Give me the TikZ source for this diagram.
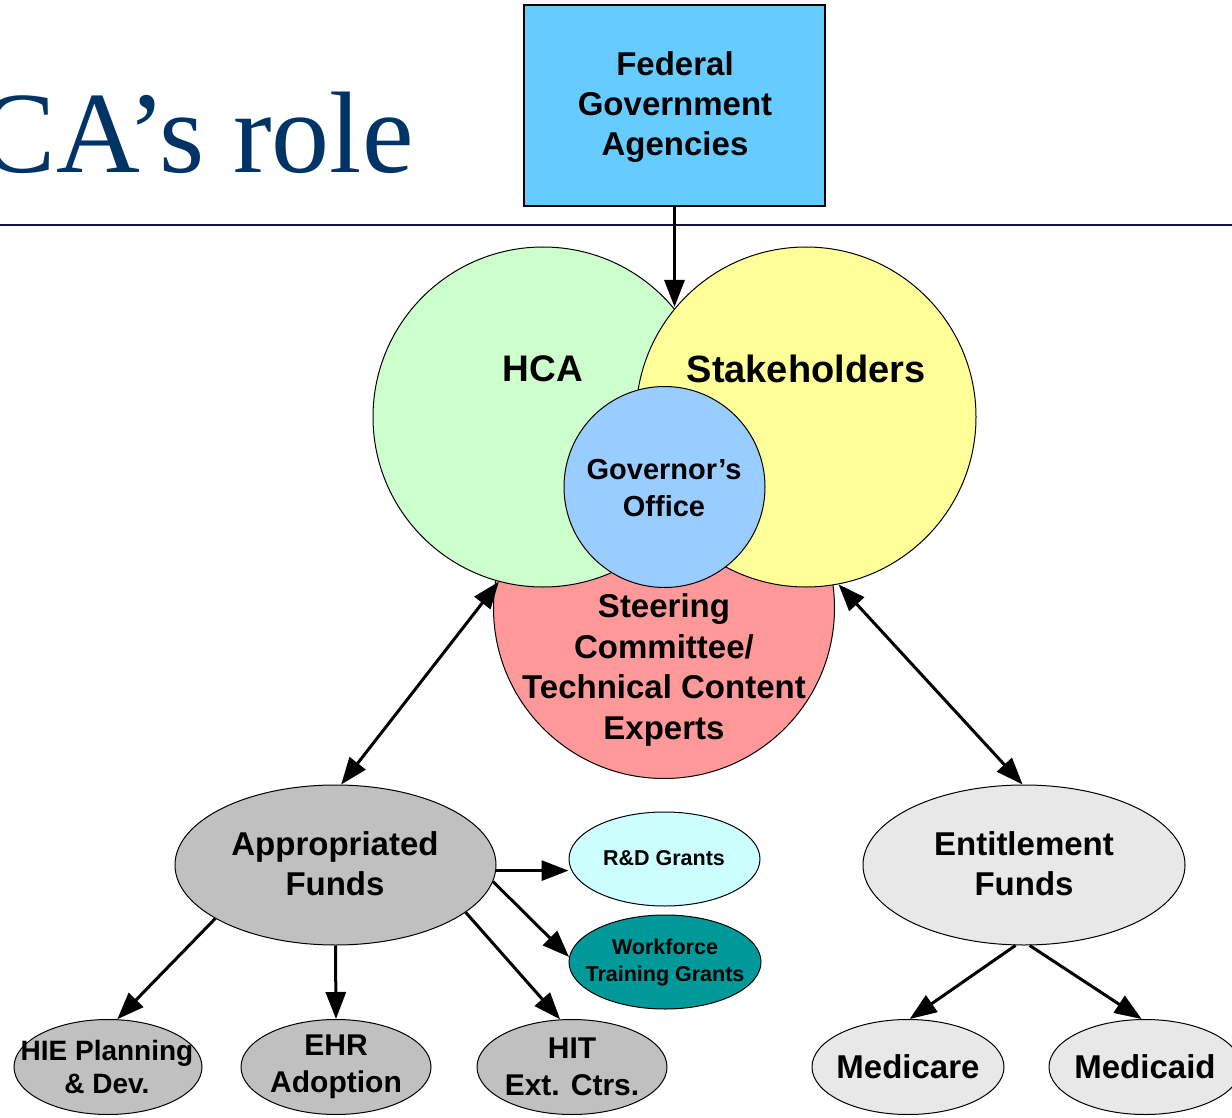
\documentclass[tikz,border=0pt]{standalone}
\usepackage{fontspec}
\setmainfont{Liberation Sans}
\newfontfamily\titlefont{Liberation Serif}
\usetikzlibrary{shapes.geometric,arrows.meta}
\definecolor{fedblue}{HTML}{66CCFF}
\definecolor{hcagreen}{HTML}{CCFFCC}
\definecolor{stakeyellow}{HTML}{FFFF99}
\definecolor{govblue}{HTML}{99CCFF}
\definecolor{steerred}{HTML}{FF9999}
\definecolor{midgray}{HTML}{C0C0C0}
\definecolor{lightgray2}{HTML}{E8E8E8}
\definecolor{rdcyan}{HTML}{CCFFFF}
\definecolor{teal2}{HTML}{009999}
\definecolor{titleblue}{HTML}{003366}
\definecolor{rulenavy}{HTML}{14144B}
\begin{document}
\begin{tikzpicture}[x=1pt,y=-1pt,
  outl/.style={draw=black,line width=1pt},
  circ/.style={outl,circle,inner sep=0pt,minimum size=#1},
  ovl/.style={outl,ellipse,inner sep=0pt},
  txt/.style 2 args={inner sep=0pt,align=center,font=\fontsize{#1}{#2}\selectfont\bfseries},
  arr/.style={line width=3pt,-{Triangle[length=27pt,width=20pt]}},
  darr/.style={line width=3pt,{Triangle[length=27pt,width=20pt]}-{Triangle[length=27pt,width=20pt]}}
]
\clip (0,0) rectangle (1232,1118);
\fill[white] (0,0) rectangle (1232,1118);
% title
\node[anchor=base east,inner sep=0pt,text=titleblue,font=\titlefont\fontsize{116}{120}\selectfont] (title) at (414,173) {CA’s role};
\draw[rulenavy,line width=2.5pt] (0,225) coordinate (rl) -- (1232,225) coordinate (rr);
% federal box
\node[outl,line width=1.5pt,fill=fedblue,minimum width=301pt,minimum height=201pt,inner sep=0pt] (fed) at (674.5,105.5) {};
\node[txt={33}{40}] (fedT) at (675,107) {Federal\\Government\\Agencies};
% venn
\node[circ=341pt,fill=steerred] (steer) at (664,608) {};
\node[circ=340pt,fill=hcagreen] (hca) at (543,417) {};
\node[circ=340pt,fill=stakeyellow] (stake) at (806,417) {};
\node[circ=201pt,fill=govblue] (gov) at (664.5,487) {};
\node[txt={37}{40}] (hcaT) at (543,369) {HCA};
\node[txt={38}{40}] (stakeT) at (806,369) {Stakeholders};
\node[txt={29}{37}] (govT) at (664,488) {Governor’s\\Office};
\node[txt={33}{40.5}] (steerT) at (664,670) {Steering\\Committee/\\Technical Content\\Experts};
\coordinate (top) at (674.5,307);
% fund ellipses
\node[ovl,fill=midgray,minimum width=321pt,minimum height=160pt] (appr) at (335.5,865) {};
\node[txt={33}{40}] (apprT) at (335,864) {Appropriated\\Funds};
\node[ovl,fill=lightgray2,minimum width=322pt,minimum height=160pt] (ent) at (1024,865) {};
\node[txt={33}{40}] (entT) at (1024,864) {Entitlement\\Funds};
\node[ovl,fill=rdcyan,minimum width=191pt,minimum height=94pt] (rd) at (664.5,859) {};
\node[txt={21.5}{27}] (rdT) at (664,858) {R\&D Grants};
\node[ovl,fill=teal2,minimum width=192pt,minimum height=94pt] (wf) at (665,962) {};
\node[txt={21.5}{27}] (wfT) at (665,962) {Workforce\\Training Grants};
% bottom ellipses
\node[ovl,fill=midgray,minimum width=188pt,minimum height=95pt] (hie) at (108,1067) {};
\node[txt={28}{33}] (hieT) at (107,1067) {HIE Planning\\\& Dev.};
\node[ovl,fill=midgray,minimum width=190pt,minimum height=95pt] (ehr) at (336,1067) {};
\node[txt={30}{37}] (ehrT) at (336,1067) {EHR\\Adoption};
\node[ovl,fill=midgray,minimum width=190pt,minimum height=95pt] (hit) at (572,1067) {};
\node[txt={30}{37}] (hitT) at (572,1067) {HIT\\Ext. Ctrs.};
\node[ovl,fill=lightgray2,minimum width=192pt,minimum height=95pt] (mcare) at (908,1067) {};
\node[txt={33}{40}] (mcareT) at (908,1067) {Medicare};
\node[ovl,fill=lightgray2,minimum width=192pt,minimum height=95pt] (mcaid) at (1145,1067) {};
\node[txt={33}{40}] (mcaidT) at (1145,1067) {Medicaid};
% connectors
\draw[arr] (fed.south) -- (top);
\draw[darr] (hca.255) -- (appr.86);
\draw[darr] (stake.281) -- (ent.91);
\draw[arr] (appr.-2) -- (appr.-2 -| rd.west);
\draw[arr] (appr.-6) -- (wf.177);
\draw[arr] (appr.-20) -- (hit.104);
\draw[arr] (appr.south) -- (ehr.north);
\draw[arr] (appr.204) -- (hie.79);
\draw[arr] (ent.264) -- (mcare.88);
\draw[arr] (ent.274) -- (mcaid.94);
\end{tikzpicture}
\end{document}
